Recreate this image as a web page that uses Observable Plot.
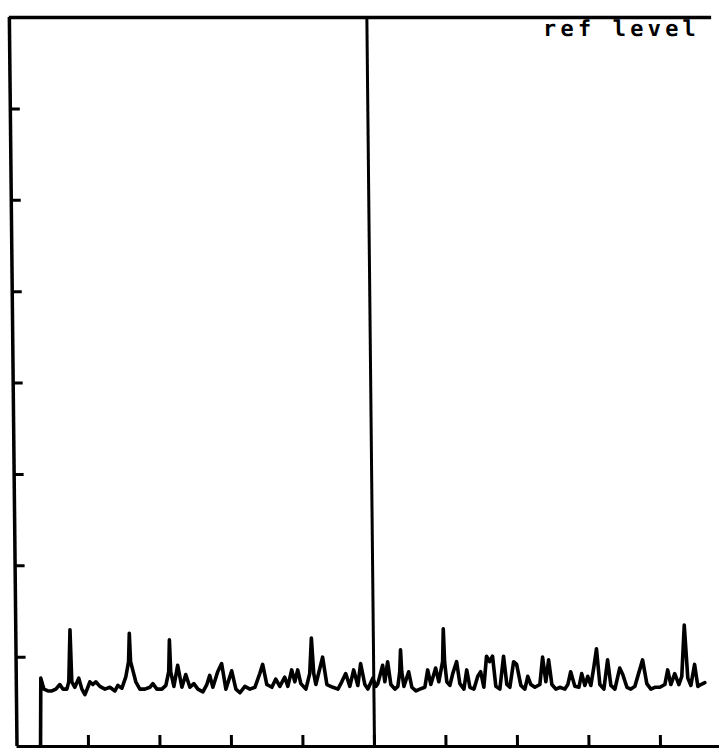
<!DOCTYPE html>
<html>
<head>
<meta charset="utf-8">
<script src="https://cdn.jsdelivr.net/npm/d3@7"></script>
<script src="https://cdn.jsdelivr.net/npm/@observablehq/plot@0.6"></script>
<style>
  html, body { margin: 0; padding: 0; background: #fff; overflow: hidden; }
  #chart svg text { letter-spacing: 4.2px; }
</style>
</head>
<body>
<div id="chart"></div>
<script>
// Frequency (MHz, 100 MHz/div) and level (dB relative to ref level, 10 dB/div)
const freqMHz = [
  32.9, 34.3, 38.5, 44.1, 49.6, 55.2, 60.8, 65.0, 70.6, 73.4, 75.8, 77.6, 81.8, 87.4, 91.6, 95.8,
  100.0, 102.8, 107.0, 111.2, 116.8, 123.8, 130.8, 137.8, 142.0, 147.6, 153.1, 157.3, 158.7, 160.1,
  164.3, 167.1, 172.7, 179.7, 186.7, 190.9, 196.5, 203.5, 209.1, 213.3, 214.7, 216.1, 220.3, 225.9,
  231.5, 237.1, 242.7, 248.3, 253.8, 260.8, 266.4, 270.6, 274.8, 281.8, 287.4, 293.0, 301.4, 307.0,
  312.6, 319.6, 326.6, 333.6, 340.6, 344.8, 350.3, 357.3, 362.9, 368.5, 375.5, 379.7, 385.3, 389.5,
  393.7, 397.9, 404.9, 410.5, 413.3, 416.1, 418.9, 428.7, 434.3, 442.7, 449.7, 455.2, 460.8, 466.4,
  472.0, 477.6, 481.8, 487.4, 491.6, 498.6, 502.8, 505.6, 512.6, 515.4, 519.6, 523.8, 529.4, 533.6,
  536.4, 537.8, 539.2, 542.0, 548.9, 553.1, 558.7, 564.3, 571.3, 575.5, 579.7, 586.7, 590.9, 596.5,
  597.9, 599.3, 602.1, 606.3, 610.5, 616.1, 620.3, 625.9, 630.1, 634.3, 639.9, 645.5, 649.6, 653.8,
  658.0, 662.2, 666.4, 670.6, 676.2, 681.8, 686.0, 690.2, 695.8, 700.0, 705.6, 711.2, 715.4, 719.6,
  725.2, 732.2, 736.4, 740.6, 744.8, 749.0, 754.5, 760.1, 767.1, 771.3, 775.5, 781.1, 786.7, 790.9,
  795.1, 799.3, 803.5, 807.7, 811.9, 816.1, 821.7, 827.3, 831.5, 837.1, 844.1, 848.3, 853.9, 859.4,
  865.0, 876.2, 881.8, 887.4, 893.0, 900.0, 907.0, 911.2, 915.4, 921.0, 926.6, 930.8, 935.0, 939.2,
  943.4, 948.9, 953.1, 957.3, 962.9
];
const levelDb = [
  -80.0, -72.3, -73.5, -73.7, -73.7, -73.5, -73.0, -73.5, -73.5, -72.7, -67.0, -72.7, -73.3, -72.3, -73.5, -74.1,
  -73.3, -72.7, -73.0, -72.7, -73.2, -73.5, -73.3, -73.7, -73.1, -73.4, -72.2, -70.5, -67.4, -70.5,
  -71.8, -72.7, -73.5, -73.5, -73.3, -72.9, -73.5, -73.5, -73.1, -71.6, -68.1, -71.6, -73.2, -70.9,
  -73.3, -71.9, -73.3, -72.9, -73.5, -73.8, -73.0, -72.0, -73.3, -71.6, -70.7, -73.5, -71.5, -73.5,
  -73.9, -73.2, -73.5, -73.3, -71.8, -70.8, -73.0, -73.3, -72.4, -73.2, -72.2, -73.2, -71.4, -72.7,
  -71.4, -72.9, -73.5, -71.8, -67.9, -71.8, -73.0, -70.0, -73.0, -73.3, -73.5, -72.7, -71.8, -73.2,
  -71.4, -73.1, -70.7, -73.0, -73.5, -72.3, -73.2, -72.9, -70.9, -72.7, -70.5, -73.0, -73.5, -73.2,
  -71.6, -69.2, -71.6, -73.2, -71.6, -73.3, -73.7, -73.5, -73.3, -71.4, -73.0, -71.2, -72.7, -70.5,
  -66.9, -70.5, -72.7, -73.1, -71.8, -70.5, -72.9, -73.5, -71.4, -73.3, -73.5, -72.1, -71.6, -73.3,
  -69.9, -70.5, -69.9, -73.2, -73.5, -69.9, -73.0, -73.3, -70.5, -70.8, -73.1, -73.5, -72.1, -73.0,
  -73.3, -73.0, -70.0, -72.7, -70.3, -73.0, -73.5, -73.3, -73.5, -73.0, -71.6, -73.2, -73.3, -71.8,
  -73.1, -72.1, -73.1, -71.2, -69.1, -73.0, -73.5, -70.3, -73.1, -73.5, -71.2, -71.9, -73.3, -73.5,
  -73.2, -70.3, -72.9, -73.5, -73.3, -73.3, -73.0, -71.4, -73.0, -71.8, -73.0, -72.1, -66.5, -72.3,
  -73.1, -70.8, -73.2, -73.0, -72.8
];
const xTicks = [100, 200, 300, 400, 500, 600, 700, 800, 900];
const yTicks = [-10, -20, -30, -40, -50, -60, -70];
const refLevelDb = 0;
const bottomDb = -80;
const centerMHz = 500;
const startMHz = 0;
const labels = ["ref level"];

const trace = freqMHz.map((f, i) => ({f, db: levelDb[i]}));

const chart = Plot.plot({
  width: 719,
  height: 748,
  marginTop: 17,
  marginBottom: 2,
  marginLeft: 16.5,
  marginRight: 0,
  style: {background: "white"},
  x: {domain: [0, 1000], range: [16.5, 731.5], axis: null},
  y: {domain: [bottomDb, refLevelDb], range: [748, 17], axis: null},
  marks: [
    Plot.ruleY([refLevelDb], {strokeWidth: 3.5}),
    Plot.ruleY([bottomDb], {strokeWidth: 3, dy: -2}),
    Plot.ruleX([startMHz], {strokeWidth: 3.5}),
    Plot.ruleX([centerMHz], {strokeWidth: 3}),
    Plot.axisX(xTicks, {anchor: "bottom", tickSize: -11, strokeWidth: 3, fill: "none", label: null, tickFormat: () => ""}),
    Plot.axisY(yTicks, {anchor: "left", tickSize: -10, strokeWidth: 3, fill: "none", label: null, tickFormat: () => ""}),
    Plot.line(trace, {x: "f", y: "db", strokeWidth: 3.6, strokeLinejoin: "round", strokeLinecap: "round"}),
    Plot.text(labels, {
      frameAnchor: "top-right", textAnchor: "start", lineAnchor: "bottom",
      dx: -169, dy: 18.5, fontFamily: "DejaVu Sans Mono", fontSize: 22, fontWeight: "bold", fill: "black"
    })
  ]
});
chart.style.transform = "skewX(0.6deg)";
chart.style.transformOrigin = "0px 747px";
document.getElementById("chart").appendChild(chart);
</script>
</body>
</html>
